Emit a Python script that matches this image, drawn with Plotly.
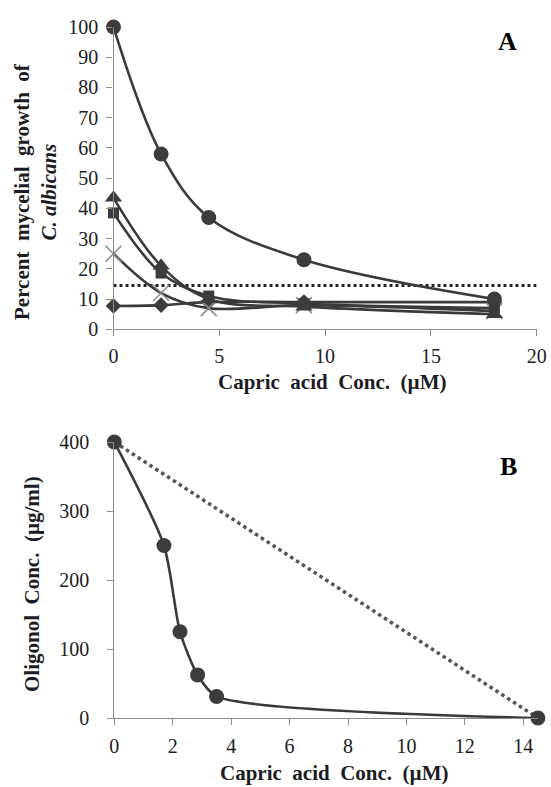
import plotly.graph_objects as go

W, H = 551, 787

# ---- Panel A data ----
conc_a = [0, 2.25, 4.5, 9, 18]
circle_a = [100, 58, 37, 23, 10]
triangle_a = [43.5, 21, 10, 7.5, 5]
square_a = [38.5, 18.6, 11, 8.5, 7]
cross_a = [25, 12, 7, 8, 6]
diamond_a = [7.7, 8, 9, 9, 9]
threshold_a = [14.5, 14.5]
threshold_x = [0, 20]
xticks_a = [0, 5, 10, 15, 20]
yticks_a = [0, 10, 20, 30, 40, 50, 60, 70, 80, 90, 100]

# ---- Panel B data ----
capric_b = [0, 1.7, 2.25, 2.85, 3.5, 14.5]
oligonol_b = [400, 250, 125, 62.5, 31.25, 0]
additive_x = [0, 14.5]
additive_y = [400, 0]
xticks_b = [0, 2, 4, 6, 8, 10, 12, 14]
yticks_b = [0, 100, 200, 300, 400]

LINE = "#3a3a3a"
MARK = "#3c3c3c"
AXIS = "#8c8c8c"
TXT = "#1c1c24"
FONT = "Liberation Serif"

fig = go.Figure()

def spline(x, y, symbol, size, xa, ya, mcolor=MARK, mline=None, smoothing=1.0):
    marker = dict(symbol=symbol, size=size, color=mcolor)
    if mline:
        marker["line"] = mline
    fig.add_trace(go.Scatter(x=x, y=y, mode="lines+markers", xaxis=xa, yaxis=ya,
                             line=dict(color=LINE, width=2.6, shape="spline", smoothing=smoothing),
                             marker=marker, cliponaxis=False, showlegend=False))

# Panel A
fig.add_trace(go.Scatter(x=threshold_x, y=threshold_a, mode="lines", xaxis="x", yaxis="y",
                         line=dict(color="#222", width=3, dash="dot"), showlegend=False))
spline(conc_a, diamond_a, "diamond", 12, "x", "y")
spline(conc_a, cross_a, "x-thin-open", 16, "x", "y", mcolor="#8a8a8a",
       mline=dict(color="#8a8a8a", width=1.5))
spline(conc_a, square_a, "square", 11, "x", "y")
spline(conc_a, triangle_a, "triangle-up", 15, "x", "y")
spline(conc_a, circle_a, "circle", 15, "x", "y")

# Panel B
fig.add_trace(go.Scatter(x=additive_x, y=additive_y, mode="lines", xaxis="x2", yaxis="y2",
                         line=dict(color="#555", width=3.5, dash="dot"), cliponaxis=False,
                         showlegend=False))
spline(capric_b, oligonol_b, "circle", 15, "x2", "y2", smoothing=0.7)

def px_x(p):
    return p / W

def px_y(p):
    return 1 - p / H

axis_common = dict(showgrid=False, zeroline=False, showline=True, linecolor=AXIS, linewidth=1.3,
                   ticks="outside", ticklen=6, tickcolor=AXIS, tickwidth=1.3, automargin=False,
                   tickfont=dict(family=FONT, size=20, color=TXT))

b_x0, b_x14 = 114.3, 523.3
b_x_end = b_x0 + (b_x14 - b_x0) * 14.5 / 14

fig.update_layout(
    width=W, height=H, margin=dict(l=0, r=0, t=0, b=0),
    paper_bgcolor="white", plot_bgcolor="white",
    xaxis=dict(domain=[px_x(113.5), px_x(536.7)], range=[0, 20], tickvals=xticks_a,
               anchor="y", ticklabelstandoff=3, **axis_common),
    yaxis=dict(domain=[px_y(329.3), px_y(27)], range=[0, 100], tickvals=yticks_a,
               anchor="x", ticklabelstandoff=4, **axis_common),
    xaxis2=dict(domain=[px_x(b_x0), px_x(b_x_end)], range=[0, 14.5], tickvals=xticks_b,
                anchor="y2", ticklabelstandoff=4, **axis_common),
    yaxis2=dict(domain=[px_y(718), px_y(442)], range=[0, 400], tickvals=yticks_b,
                anchor="x2", ticklabelstandoff=14, **axis_common),
)

title_font = dict(family=FONT, size=21, color=TXT)
ann = [
    dict(x=px_x(35), y=px_y(192), text="<b>Percent  mycelial  growth  of</b><br><b><i>C. albicans</i></b>",
         textangle=-90, font=title_font),
    dict(x=px_x(332), y=px_y(382), text="<b>Capric  acid  Conc.  (µM)</b>", font=title_font),
    dict(x=px_x(32), y=px_y(584), text="<b>Oligonol  Conc.  (µg/ml)</b>", textangle=-90, font=title_font),
    dict(x=px_x(334), y=px_y(773), text="<b>Capric  acid  Conc.  (µM)</b>", font=title_font),
    dict(x=px_x(507), y=px_y(42), text="<b>A</b>", font=dict(family=FONT, size=26, color="#000")),
    dict(x=px_x(508), y=px_y(466), text="<b>B</b>", font=dict(family=FONT, size=26, color="#000")),
]
for a in ann:
    a.update(xref="paper", yref="paper", showarrow=False, xanchor="center", yanchor="middle")
fig.update_layout(annotations=ann)

fig.write_html("out.html", config={"displayModeBar": False},
               post_script="document.body.style.margin='0';document.body.style.overflow='hidden';")
